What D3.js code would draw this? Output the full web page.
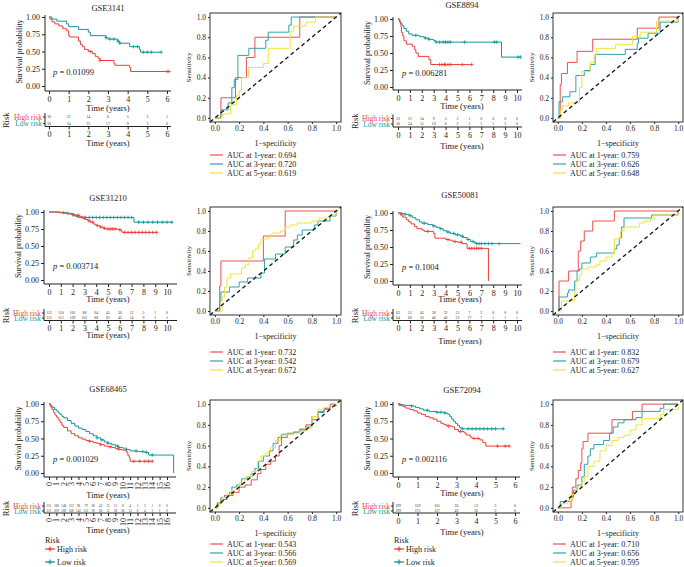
<!DOCTYPE html>
<html><head><meta charset="utf-8">
<script src="https://cdn.jsdelivr.net/npm/d3@7"></script>
<style>body{margin:0;background:#fff} svg{display:block} text{font-family:"Liberation Serif","DejaVu Serif",serif}</style>
</head><body><svg id="c" width="684" height="567"></svg>
<script>
// ---------------- DATA ----------------
const yTicksKM = [0, 0.25, 0.5, 0.75, 1];
const rocTicks = [0, 0.2, 0.4, 0.6, 0.8, 1];
const groupLabels = ["High risk", "Low risk"];
const rocLabels = ["AUC at 1-year: ", "AUC at 3-year: ", "AUC at 5-year: "];

// GSE3141
const km1Title = "GSE3141";
const km1P = "0.01099";
const km1Ticks = [0,1,2,3,4,5,6];
const km1High = [[0,1],[0.05,0.97],[0.15,0.93],[0.3,0.9],[0.5,0.87],[0.7,0.83],[0.9,0.8],[1.0,0.73],[1.05,0.71],[1.5,0.65],[1.6,0.6],[1.7,0.57],[1.8,0.53],[2.0,0.5],[2.2,0.47],[2.35,0.43],[2.5,0.4],[2.6,0.37],[3.3,0.33],[3.35,0.3],[4.1,0.27],[4.15,0.21],[6.1,0.21]];
const km1Low = [[0,1],[0.15,0.97],[0.4,0.94],[0.9,0.9],[1.0,0.86],[1.5,0.82],[2.0,0.78],[2.1,0.73],[2.9,0.7],[3.0,0.68],[3.5,0.65],[3.6,0.62],[4.1,0.57],[4.6,0.53],[4.65,0.49],[5.7,0.49]];
const km1HighCens = [2.1,2.6,6.0,6.1];
const km1LowCens = [2.9,3.1,3.3,3.5,3.6,4.3,4.5,4.8,5.0,5.2,5.7];
const km1RiskHigh = [30,22,14,6,5,2,1];
const km1RiskLow = [30,24,21,17,9,3,0];

// GSE8894
const km2Title = "GSE8894";
const km2P = "0.006281";
const km2Ticks = [0,1,2,3,4,5,6,7,8,9,10];
const km2High = [[0,1],[0.15,0.95],[0.25,0.88],[0.3,0.8],[0.4,0.75],[0.5,0.68],[0.7,0.63],[1.2,0.6],[1.4,0.55],[1.5,0.5],[1.7,0.45],[2.6,0.4],[2.75,0.33],[6.2,0.33]];
const km2Low = [[0,1],[0.1,0.97],[0.2,0.93],[0.35,0.9],[0.5,0.86],[0.7,0.82],[0.9,0.78],[1.2,0.76],[1.8,0.74],[2.2,0.72],[2.6,0.7],[3.0,0.68],[3.2,0.66],[8.7,0.44],[10.3,0.44]];
const km2HighCens = [3.5,3.7,3.9,4.0,4.2,4.4,5.4,6.2];
const km2LowCens = [1.5,2.3,2.6,3.2,3.5,3.8,4.0,4.2,4.4,5.6,8.1,8.3,10.1,10.3];
const km2RiskHigh = [33,21,14,9,5,2,1,0,0,0,0];
const km2RiskLow = [30,24,15,10,6,2,1,1,1,1,0];

// GSE31210
const km3Title = "GSE31210";
const km3P = "0.003714";
const km3Ticks = [0,1,2,3,4,5,6,7,8,9,10];
const km3High = [[0,1],[0.8,0.99],[1.3,0.98],[1.7,0.97],[2.0,0.96],[2.3,0.95],[2.6,0.93],[2.9,0.91],[3.1,0.89],[3.3,0.87],[3.5,0.85],[3.8,0.82],[4.0,0.8],[4.3,0.78],[4.6,0.76],[4.9,0.75],[5.8,0.74],[6.1,0.72],[6.2,0.7],[9.2,0.7]];
const km3Low = [[0,1],[1.0,0.99],[1.5,0.98],[2.0,0.96],[2.2,0.94],[2.5,0.92],[7.2,0.85],[10.5,0.85]];
const km3HighCens = [2.0,2.5,3.0,3.4,3.7,4.1,4.4,4.7,5.0,5.2,5.4,5.6,6.0,6.4,6.7,7.0,7.3,7.6,7.9,8.2,8.5,8.8,9.1];
const km3LowCens = [1.2,1.6,2.1,2.4,2.8,3.1,3.4,3.7,4.0,4.3,4.6,4.9,5.2,5.5,5.8,6.1,6.4,6.7,7.0,7.6,8.0,8.4,8.8,9.2,9.6,10.0,10.4];
const km3RiskHigh = [113,110,101,88,64,45,30,12,5,1,0];
const km3RiskLow = [113,112,109,101,88,61,42,14,9,1,1];

// GSE50081
const km4Title = "GSE50081";
const km4P = "0.1004";
const km4Ticks = [0,1,2,3,4,5,6,7,8,9,10];
const km4High = [[0,1],[0.2,0.97],[0.4,0.94],[0.7,0.9],[0.9,0.87],[1.1,0.84],[1.4,0.8],[1.6,0.77],[2.0,0.75],[2.2,0.73],[3.0,0.7],[3.1,0.63],[4.0,0.61],[4.3,0.6],[4.6,0.58],[5.0,0.57],[5.4,0.55],[5.8,0.48],[7.6,0.0]];
const km4Low = [[0,1],[0.3,0.99],[0.6,0.98],[1.0,0.96],[1.2,0.93],[1.5,0.9],[1.8,0.87],[2.0,0.85],[2.5,0.83],[2.9,0.81],[3.2,0.79],[3.5,0.77],[3.8,0.74],[4.1,0.72],[4.4,0.7],[4.8,0.68],[5.2,0.66],[5.5,0.64],[5.8,0.61],[6.1,0.58],[6.4,0.56],[6.6,0.55],[10.3,0.55]];
const km4HighCens = [2.5,4.2,4.8,5.3,6.0,6.2,6.4,6.6,6.8,7.0];
const km4LowCens = [0.3,0.6,1.0,2.2,3.0,3.6,4.2,4.7,5.0,5.4,5.9,6.3,6.6,6.8,7.0,7.3,7.6,7.9,8.5];
const km4RiskHigh = [63,51,43,38,32,23,7,2,0,0,0];
const km4RiskLow = [64,60,50,46,40,32,17,7,1,1,1];

// GSE68465
const km5Title = "GSE68465";
const km5P = "0.001029";
const km5Ticks = [0,1,2,3,4,5,6,7,8,9,10,11,12,13,14,15,16];
const km5High = [[0,1],[0.2,0.96],[0.4,0.92],[0.6,0.88],[0.8,0.84],[1,0.81],[1.25,0.77],[1.5,0.73],[1.75,0.69],[2,0.66],[2.5,0.61],[3,0.57],[3.5,0.54],[4,0.51],[4.5,0.49],[5,0.47],[5.5,0.46],[6,0.44],[6.5,0.43],[7,0.41],[7.5,0.39],[8,0.38],[8.5,0.37],[9,0.35],[9.5,0.34],[10,0.33],[10.5,0.3],[10.7,0.25],[10.9,0.22],[11,0.17],[14,0.17]];
const km5Low = [[0,1],[0.25,0.97],[0.5,0.95],[0.75,0.92],[1,0.9],[1.25,0.87],[1.5,0.85],[1.75,0.82],[2,0.8],[2.5,0.76],[3,0.72],[3.5,0.68],[4,0.65],[4.5,0.63],[5,0.6],[5.5,0.57],[6,0.54],[6.5,0.51],[7,0.48],[7.5,0.45],[8,0.43],[8.5,0.41],[9,0.39],[9.5,0.37],[10,0.36],[10.5,0.34],[11,0.32],[12,0.31],[13,0.3],[13.5,0.26],[16.9,0.0]];
const km5HighCens = [5.5,7.0,8.3,9.4,11.5,12.3,13.0,13.5,14.0];
const km5LowCens = [6.5,7.2,8.0,9.3,10.5,11.8,12.7,13.2,14.0];
const km5RiskHigh = [221,188,148,122,96,79,60,42,23,13,8,4,3,2,1,0,0];
const km5RiskLow = [221,209,189,168,141,113,92,68,51,38,26,12,6,4,1,1,0];

// GSE72094
const km6Title = "GSE72094";
const km6P = "0.002116";
const km6Ticks = [0,1,2,3,4,5,6];
const km6High = [[0,1],[0.1,0.98],[0.25,0.96],[0.4,0.94],[0.6,0.92],[0.8,0.9],[1.0,0.87],[1.2,0.85],[1.4,0.82],[1.6,0.8],[1.8,0.78],[2.0,0.75],[2.2,0.72],[2.35,0.7],[2.5,0.68],[2.8,0.67],[2.9,0.63],[3.1,0.6],[3.4,0.58],[3.5,0.55],[3.7,0.52],[3.8,0.5],[4.2,0.48],[4.35,0.44],[4.5,0.39],[5.7,0.39]];
const km6Low = [[0,1],[0.1,0.99],[0.3,0.98],[0.7,0.97],[0.9,0.95],[1.1,0.93],[1.3,0.91],[1.6,0.89],[2.0,0.88],[2.4,0.87],[2.55,0.85],[2.65,0.82],[2.75,0.78],[2.85,0.75],[2.95,0.72],[3.05,0.69],[3.15,0.66],[3.25,0.64],[5.4,0.64]];
const km6HighCens = [2.6,3.2,3.9,4.1,5.1,5.5,5.7];
const km6LowCens = [0.1,0.7,1.5,2.0,2.2,2.4,3.3,3.6,3.8,4.0,4.2,4.4,4.6,4.8,5.0,5.4];
const km6RiskHigh = [199,159,105,26,13,3,0];
const km6RiskLow = [199,175,127,42,16,2,0];

// ROC curves [1-specificity, sensitivity]
const roc1Y1 = [[0,0],[0.05,0.2],[0.15,0.2],[0.17,0.4],[0.26,0.6],[0.33,0.8],[0.7,1],[1,1]];
const roc1Y3 = [[0,0],[0.05,0.08],[0.11,0.15],[0.14,0.3],[0.16,0.38],[0.19,0.62],[0.28,0.69],[0.42,0.77],[0.44,0.85],[0.61,0.92],[0.63,1],[1,1]];
const roc1Y5 = [[0,0],[0.06,0.04],[0.13,0.13],[0.18,0.22],[0.2,0.27],[0.22,0.4],[0.28,0.5],[0.4,0.54],[0.44,0.69],[0.62,0.86],[0.65,0.91],[0.75,0.95],[0.83,1],[1,1]];
const roc1Auc = ["0.694","0.720","0.619"];

const roc2Y1 = [[0,0],[0.02,0.33],[0.03,0.44],[0.08,0.55],[0.16,0.66],[0.29,0.78],[0.66,0.89],[0.84,1],[1,1]];
const roc2Y3 = [[0,0],[0.01,0.16],[0.04,0.21],[0.1,0.26],[0.15,0.42],[0.22,0.47],[0.27,0.53],[0.31,0.63],[0.56,0.68],[0.66,0.74],[0.67,0.79],[0.75,0.84],[0.85,0.95],[1,1]];
const roc2Y5 = [[0,0],[0.02,0.08],[0.04,0.12],[0.09,0.15],[0.18,0.3],[0.2,0.46],[0.27,0.55],[0.3,0.62],[0.32,0.69],[0.48,0.73],[0.62,0.81],[0.69,0.85],[0.82,0.96],[1,1]];
const roc2Auc = ["0.759","0.626","0.648"];

const roc3Y1 = [[0,0],[0.04,0.25],[0.05,0.5],[0.4,0.75],[0.58,1],[1,1]];
const roc3Y3 = [[0,0],[0.04,0.1],[0.05,0.19],[0.12,0.24],[0.2,0.29],[0.27,0.33],[0.38,0.38],[0.41,0.52],[0.5,0.57],[0.58,0.64],[0.65,0.71],[0.68,0.76],[0.72,0.81],[0.82,0.86],[0.85,0.9],[0.95,0.95],[1,1]];
const roc3Y5 = [[0,0],[0.06,0.14],[0.08,0.24],[0.1,0.33],[0.13,0.37],[0.22,0.43],[0.25,0.46],[0.28,0.53],[0.31,0.6],[0.33,0.62],[0.36,0.67],[0.38,0.72],[0.44,0.74],[0.47,0.78],[0.54,0.8],[0.58,0.84],[0.62,0.86],[0.68,0.88],[0.8,0.9],[0.86,0.93],[0.95,0.96],[1,1]];
const roc3Auc = ["0.732","0.542","0.672"];

const roc4Y1 = [[0,0],[0.01,0.3],[0.09,0.4],[0.17,0.6],[0.19,0.7],[0.22,0.8],[0.29,0.9],[0.47,1],[1,1]];
const roc4Y3 = [[0,0],[0.01,0.14],[0.08,0.18],[0.09,0.21],[0.14,0.3],[0.16,0.4],[0.18,0.42],[0.2,0.48],[0.27,0.54],[0.32,0.58],[0.47,0.62],[0.49,0.66],[0.51,0.73],[0.53,0.84],[0.55,0.93],[0.78,0.96],[1,1]];
const roc4Y5 = [[0,0],[0.03,0.1],[0.14,0.2],[0.15,0.3],[0.18,0.36],[0.2,0.42],[0.25,0.44],[0.32,0.46],[0.35,0.5],[0.4,0.54],[0.45,0.58],[0.47,0.72],[0.52,0.8],[0.55,0.84],[0.68,0.88],[0.72,0.9],[0.77,0.92],[0.8,0.96],[1,1]];
const roc4Auc = ["0.832","0.679","0.627"];

const roc5Y1 = [[0,0],[0.02,0.04],[0.05,0.08],[0.1,0.12],[0.15,0.15],[0.2,0.2],[0.25,0.22],[0.3,0.27],[0.35,0.33],[0.38,0.37],[0.42,0.42],[0.46,0.45],[0.5,0.5],[0.53,0.6],[0.55,0.68],[0.6,0.71],[0.65,0.73],[0.7,0.76],[0.75,0.8],[0.8,0.88],[0.85,0.93],[0.9,0.96],[0.95,1],[1,1]];
const roc5Y3 = [[0,0],[0.02,0.05],[0.05,0.1],[0.08,0.12],[0.12,0.15],[0.14,0.2],[0.18,0.22],[0.22,0.28],[0.27,0.3],[0.3,0.33],[0.33,0.38],[0.36,0.45],[0.4,0.5],[0.45,0.55],[0.48,0.62],[0.52,0.68],[0.55,0.71],[0.6,0.72],[0.65,0.73],[0.7,0.75],[0.75,0.78],[0.8,0.85],[0.85,0.92],[0.9,0.95],[0.95,0.98],[1,1]];
const roc5Y5 = [[0,0],[0.03,0.05],[0.06,0.1],[0.1,0.13],[0.14,0.18],[0.2,0.24],[0.25,0.3],[0.3,0.35],[0.35,0.45],[0.38,0.5],[0.42,0.53],[0.46,0.58],[0.5,0.65],[0.54,0.7],[0.6,0.71],[0.65,0.72],[0.7,0.74],[0.75,0.77],[0.8,0.88],[0.85,0.95],[0.9,0.97],[0.95,0.98],[1,1]];
const roc5Auc = ["0.543","0.566","0.569"];

const roc6Y1 = [[0,0],[0.11,0.07],[0.12,0.2],[0.15,0.28],[0.17,0.36],[0.19,0.43],[0.2,0.57],[0.21,0.64],[0.25,0.72],[0.45,0.85],[0.62,0.93],[0.7,1],[1,1]];
const roc6Y3 = [[0,0],[0.02,0.06],[0.1,0.1],[0.13,0.17],[0.16,0.22],[0.2,0.3],[0.22,0.42],[0.25,0.5],[0.27,0.57],[0.3,0.61],[0.38,0.65],[0.43,0.72],[0.46,0.78],[0.5,0.82],[0.55,0.85],[0.65,0.87],[0.7,0.93],[0.85,0.96],[0.88,1],[1,1]];
const roc6Y5 = [[0,0],[0.03,0.04],[0.08,0.07],[0.12,0.13],[0.15,0.2],[0.2,0.25],[0.22,0.3],[0.25,0.4],[0.3,0.45],[0.35,0.55],[0.4,0.6],[0.45,0.65],[0.5,0.68],[0.55,0.7],[0.6,0.75],[0.65,0.8],[0.7,0.86],[0.85,0.9],[0.88,0.95],[1,1]];
const roc6Auc = ["0.710","0.656","0.595"];

// ---------------- DRAWING ----------------
const HIGH = "#EC3F37", LOW = "#14989A";
const ROCC = ["#F24E4E", "#2EA3A8", "#F2E23A"];
const FONT = "Liberation Serif, DejaVu Serif, serif";
const svg = d3.select("#c");

function styleAxis(a, size) {
  a.attr("font-family", FONT).attr("font-size", size);
  a.selectAll("line").attr("stroke", "#222");
  a.selectAll("text").attr("fill", "#222");
}

function survAt(curve, t) {
  let s = curve[0][1];
  for (const p of curve) { if (p[0] <= t) s = p[1]; }
  return s;
}

function drawKM(L, title, pval, ticks, high, low, highC, lowC, riskH, riskL) {
  const g = svg.append("g");
  const x = d3.scaleLinear().domain([0, ticks[ticks.length - 1]]).range([L.x0, L.xT]);
  const y = d3.scaleLinear().domain([0, 1]).range([L.yBot, L.yTop]);
  const intFmt = d3.format("d");
  g.append("text").attr("x", L.tx).attr("y", L.titleY).attr("text-anchor", "middle")
    .attr("dominant-baseline", "central").attr("font-size", 8.5).attr("fill", "#222").text(title);
  // y axis
  const ya = g.append("g").attr("transform", `translate(${L.ax},0)`)
    .call(d3.axisLeft(y).tickValues(yTicksKM).tickFormat(d3.format(".2f")).tickSize(3).tickPadding(2));
  ya.select(".domain").remove();
  styleAxis(ya, 8);
  g.append("line").attr("x1", L.ax).attr("x2", L.ax).attr("y1", L.yTop - 2).attr("y2", L.axY).attr("stroke", "#222");
  g.append("text").attr("transform", `translate(${L.ax - 26},${(L.yTop + L.yBot) / 2}) rotate(-90)`)
    .attr("text-anchor", "middle").attr("dominant-baseline", "central").attr("font-size", 8).attr("fill", "#222").text("Survival probability");
  // x axis
  const xa = g.append("g").attr("transform", `translate(0,${L.axY})`)
    .call(d3.axisBottom(x).tickValues(ticks).tickFormat(intFmt).tickSize(3).tickPadding(2));
  xa.select(".domain").remove();
  styleAxis(xa, 8);
  if (L.rot) {
    xa.selectAll("text").attr("transform", "rotate(-90)").attr("text-anchor", "end")
      .attr("dy", "0.32em").attr("y", 0).attr("x", -5);
  }
  g.append("line").attr("x1", L.ax).attr("x2", L.xEnd).attr("y1", L.axY).attr("y2", L.axY).attr("stroke", "#222");
  g.append("text").attr("x", L.tx).attr("y", L.ttlY).attr("text-anchor", "middle").attr("dominant-baseline", "central")
    .attr("font-size", 8.5).attr("fill", "#222").text("Time (years)");
  // p value
  const pt = g.append("text").attr("x", L.x0 + 4).attr("y", y(0.2)).attr("dominant-baseline", "central").attr("font-size", 8.5).attr("fill", "#222");
  pt.append("tspan").attr("font-style", "italic").text("p");
  pt.append("tspan").text(" = " + pval);
  // curves
  const line = d3.line().x(p => x(p[0])).y(p => y(p[1])).curve(d3.curveStepAfter);
  [[low, LOW, lowC], [high, HIGH, highC]].forEach(([c, col, cens]) => {
    g.append("path").attr("d", line(c)).attr("fill", "none").attr("stroke", col).attr("stroke-width", 1);
    g.selectAll(null).data(cens).enter().append("path")
      .attr("transform", t => `translate(${x(t)},${y(survAt(c, t))})`)
      .attr("d", "M-1.8,0H1.8M0,-1.8V1.8").attr("stroke", col).attr("stroke-width", 0.8);
  });
  // risk table
  g.append("text").attr("transform", `translate(${L.riskX},${(L.hiY + L.loY) / 2}) rotate(-90)`)
    .attr("text-anchor", "middle").attr("dominant-baseline", "central").attr("font-size", 8.5).attr("fill", "#222").text("Risk");
  const numSize = ticks.length > 12 ? 3.2 : 3.8;
  [[groupLabels[0], L.hiY, HIGH, riskH], [groupLabels[1], L.loY, LOW, riskL]].forEach(([lab, yy, col, vals]) => {
    g.append("text").attr("x", L.ax - 3).attr("y", yy).attr("text-anchor", "end").attr("dominant-baseline", "central")
      .attr("font-size", 7.5).attr("fill", col).text(lab);
    g.append("line").attr("x1", L.ax - 2).attr("x2", L.ax).attr("y1", yy).attr("y2", yy).attr("stroke", "#222");
    g.selectAll(null).data(vals).enter().append("text")
      .attr("x", (v, i) => x(ticks[i])).attr("y", yy).attr("text-anchor", "middle").attr("dominant-baseline", "central")
      .attr("font-size", numSize).attr("fill", "#333").text(v => v);
  });
  g.append("line").attr("x1", L.ax).attr("x2", L.ax).attr("y1", L.hiY - 4).attr("y2", L.tabY).attr("stroke", "#222");
  const ta = g.append("g").attr("transform", `translate(0,${L.tabY})`)
    .call(d3.axisBottom(x).tickValues(ticks).tickFormat(intFmt).tickSize(3).tickPadding(2));
  ta.select(".domain").remove();
  styleAxis(ta, 8);
  if (L.rot) {
    ta.selectAll("text").attr("transform", "rotate(-90)").attr("text-anchor", "end")
      .attr("dy", "0.32em").attr("y", 0).attr("x", -5);
  }
  g.append("line").attr("x1", L.ax).attr("x2", L.xEnd).attr("y1", L.tabY).attr("y2", L.tabY).attr("stroke", "#222");
  g.append("text").attr("x", L.tx).attr("y", L.tabTtlY).attr("text-anchor", "middle").attr("dominant-baseline", "central")
    .attr("font-size", 8.5).attr("fill", "#222").text("Time (years)");
  // legend
  if (L.legY) {
    g.append("text").attr("x", L.ax + 1).attr("y", L.legY).attr("dominant-baseline", "central").attr("font-size", 8).attr("fill", "#222").text("Risk");
    [[groupLabels[0], HIGH, L.legY + 9], [groupLabels[1], LOW, L.legY + 22]].forEach(([lab, col, yy]) => {
      g.append("line").attr("x1", L.ax + 1).attr("x2", L.ax + 11).attr("y1", yy).attr("y2", yy).attr("stroke", col).attr("stroke-width", 1.2);
      g.append("path").attr("transform", `translate(${L.ax + 6},${yy})`).attr("d", "M-2.5,0H2.5M0,-2.5V2.5").attr("stroke", col).attr("stroke-width", 1.2);
      g.append("text").attr("x", L.ax + 13).attr("y", yy).attr("dominant-baseline", "central").attr("font-size", 8).attr("fill", "#222").text(lab);
    });
  }
}

function drawROC(R, curves, aucs) {
  const g = svg.append("g");
  const x = d3.scaleLinear().domain([-0.04, 1.04]).range([R.L, R.R]);
  const y = d3.scaleLinear().domain([-0.04, 1.04]).range([R.B, R.T]);
  const xa = g.append("g").attr("transform", `translate(0,${R.B})`).call(d3.axisBottom(x).tickValues(rocTicks).tickFormat(d3.format(".1f")).tickSize(2).tickPadding(2));
  xa.select(".domain").remove(); styleAxis(xa, 7.5);
  const ya = g.append("g").attr("transform", `translate(${R.L},0)`).call(d3.axisLeft(y).tickValues(rocTicks).tickFormat(d3.format(".1f")).tickSize(2).tickPadding(2));
  ya.select(".domain").remove(); styleAxis(ya, 7.5);
  const line = d3.line().x(p => x(p[0])).y(p => y(p[1])).curve(d3.curveStepAfter);
  curves.forEach((c, i) => {
    g.append("path").attr("d", line(c)).attr("fill", "none").attr("stroke", ROCC[i]).attr("stroke-width", 1);
  });
  g.append("line").attr("x1", x(-0.04)).attr("y1", y(-0.04)).attr("x2", x(1.04)).attr("y2", y(1.04))
    .attr("stroke", "#111").attr("stroke-width", 1.3).attr("stroke-dasharray", "4,3");
  g.append("rect").attr("x", R.L).attr("y", R.T).attr("width", R.R - R.L).attr("height", R.B - R.T)
    .attr("fill", "none").attr("stroke", "#333").attr("stroke-width", 1);
  g.append("text").attr("x", (R.L + R.R) / 2).attr("y", R.B + 21).attr("text-anchor", "middle").attr("dominant-baseline", "central")
    .attr("font-size", 8).attr("fill", "#222").text("1\u2212specificity");
  g.append("text").attr("transform", `translate(${R.L - 21},${(R.T + R.B) / 2}) rotate(-90)`).attr("text-anchor", "middle")
    .attr("dominant-baseline", "central").attr("font-size", 7).attr("fill", "#222").text("Sensitivity");
  aucs.forEach((a, i) => {
    const yy = R.legY + i * 9;
    g.append("line").attr("x1", R.L).attr("x2", R.L + 13).attr("y1", yy).attr("y2", yy).attr("stroke", ROCC[i]).attr("stroke-width", 1.2);
    g.append("text").attr("x", R.L + 17).attr("y", yy).attr("dominant-baseline", "central").attr("font-size", 8).attr("fill", "#222").text(rocLabels[i] + a);
  });
}

drawKM({ax:45,x0:49,xT:167,xEnd:171,yTop:17,yBot:86,axY:91,ttlY:108,titleY:8,tx:108,hiY:117,loY:123.5,tabY:126.5,tabTtlY:143,riskX:6},
  km1Title, km1P, km1Ticks, km1High, km1Low, km1HighCens, km1LowCens, km1RiskHigh, km1RiskLow);
drawKM({ax:393,x0:398,xT:517,xEnd:522,yTop:19,yBot:87,axY:90,ttlY:105.5,titleY:5,tx:462,hiY:118.5,loY:124,tabY:127,tabTtlY:146,riskX:355},
  km2Title, km2P, km2Ticks, km2High, km2Low, km2HighCens, km2LowCens, km2RiskHigh, km2RiskLow);
drawKM({ax:44,x0:49,xT:167,xEnd:177,yTop:212,yBot:280,axY:284,ttlY:298.5,titleY:198,tx:108,hiY:313,loY:318,tabY:320.5,tabTtlY:335,riskX:6},
  km3Title, km3P, km3Ticks, km3High, km3Low, km3HighCens, km3LowCens, km3RiskHigh, km3RiskLow);
drawKM({ax:393,x0:398,xT:517,xEnd:522,yTop:213,yBot:281,axY:285,ttlY:299,titleY:195,tx:460,hiY:313,loY:318,tabY:320.5,tabTtlY:341,riskX:355},
  km4Title, km4P, km4Ticks, km4High, km4Low, km4HighCens, km4LowCens, km4RiskHigh, km4RiskLow);
drawKM({ax:44,x0:49,xT:167,xEnd:176,yTop:404,yBot:473,axY:477,ttlY:494.5,titleY:389,tx:108,hiY:506,loY:511,tabY:513,tabTtlY:529.5,riskX:6,rot:true,legY:540},
  km5Title, km5P, km5Ticks, km5High, km5Low, km5HighCens, km5LowCens, km5RiskHigh, km5RiskLow);
drawKM({ax:393,x0:398,xT:515,xEnd:520,yTop:404,yBot:473,axY:477,ttlY:492.5,titleY:390,tx:462,hiY:506,loY:511,tabY:513,tabTtlY:532,riskX:355,legY:540},
  km6Title, km6P, km6Ticks, km6High, km6Low, km6HighCens, km6LowCens, km6RiskHigh, km6RiskLow);

drawROC({L:210,R:341,T:13,B:122,legY:155}, [roc1Y1, roc1Y3, roc1Y5], roc1Auc);
drawROC({L:553,R:683,T:13,B:122,legY:155}, [roc2Y1, roc2Y3, roc2Y5], roc2Auc);
drawROC({L:210,R:341,T:207,B:315,legY:352}, [roc3Y1, roc3Y3, roc3Y5], roc3Auc);
drawROC({L:553,R:683,T:207,B:315,legY:352}, [roc4Y1, roc4Y3, roc4Y5], roc4Auc);
drawROC({L:210,R:341,T:400,B:512,legY:544}, [roc5Y1, roc5Y3, roc5Y5], roc5Auc);
drawROC({L:553,R:683,T:400,B:512,legY:544}, [roc6Y1, roc6Y3, roc6Y5], roc6Auc);
</script></body></html>
